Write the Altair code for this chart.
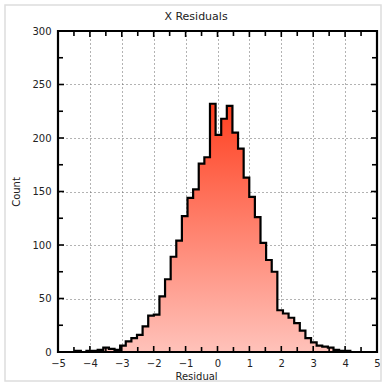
import altair as alt
import pandas as pd

# Histogram bins (uniform width)
bin_start = -4.46
bin_width = 0.176
counts = [1, 0, 1, 1, 2, 4, 3, 2, 6, 10,
          13, 16, 24, 34, 35, 52, 68, 89, 104, 127,
          144, 152, 176, 182, 232, 203, 218, 230, 205, 190,
          163, 145, 126, 102, 86, 75, 39, 36, 32, 27,
          20, 13, 9, 6, 5, 4, 2, 1, 1, 0]

x_major = [-5, -4, -3, -2, -1, 0, 1, 2, 3, 4, 5]
x_minor = [-4.5, -3.5, -2.5, -1.5, -0.5, 0.5, 1.5, 2.5, 3.5, 4.5]
y_major = [0, 50, 100, 150, 200, 250, 300]
y_minor = [25, 75, 125, 175, 225, 275]
title_text = "X Residuals"

W, H = 319, 321

edges = [bin_start + bin_width * k for k in range(len(counts) + 1)]
rows = [{"x": edges[0], "count": 0}]
for k, c in enumerate(counts):
    rows.append({"x": edges[k] + 1e-6, "count": c})
rows.append({"x": edges[-1], "count": 0})
hist = pd.DataFrame(rows)

xscale = alt.Scale(domain=[-5, 5], nice=False, zero=False)
yscale = alt.Scale(domain=[0, 300], nice=False)

xaxis = alt.Axis(values=x_major, format="d", title="Residual", grid=True,
                 gridDash=[1, 3], gridColor="#666", gridWidth=1,
                 labelOverlap=False, labelFlush=False, titleX=138,
                 ticks=False, domain=False, labelPadding=6, titlePadding=3)
yaxis = alt.Axis(values=y_major, title="Count", grid=True,
                 gridDash=[1, 3], gridColor="#666", gridWidth=1,
                 labelOverlap=False, labelFlush=False,
                 ticks=False, domain=False, labelPadding=7, titlePadding=10)

gradient = alt.Gradient(
    gradient="linear", x1=0, y1=0, x2=0, y2=1,
    stops=[alt.GradientStop(offset=0, color="#ff4020"),
           alt.GradientStop(offset=1, color="#ffc2ba")])

area = alt.Chart(hist).mark_area(interpolate="step-after", color=gradient,
                                 opacity=1).encode(
    x=alt.X("x:Q", scale=xscale, axis=xaxis),
    y=alt.Y("count:Q", scale=yscale, axis=yaxis),
)
line = alt.Chart(hist).mark_line(interpolate="step-after", color="black",
                                 strokeWidth=2.2).encode(
    x=alt.X("x:Q", scale=xscale, axis=xaxis),
    y=alt.Y("count:Q", scale=yscale, axis=yaxis))

def xticks(vals, length):
    d = pd.DataFrame({"v": vals})
    b = alt.Chart(d).mark_rule(color="black", strokeWidth=1.6).encode(
        x=alt.X("v:Q", scale=xscale, axis=xaxis), y=alt.value(H), y2=alt.value(H - length))
    t = alt.Chart(d).mark_rule(color="black", strokeWidth=1.6).encode(
        x=alt.X("v:Q", scale=xscale, axis=xaxis), y=alt.value(0), y2=alt.value(length))
    return [b, t]

def yticks(vals, length):
    d = pd.DataFrame({"v": vals})
    l = alt.Chart(d).mark_rule(color="black", strokeWidth=1.6).encode(
        y=alt.Y("v:Q", scale=yscale, axis=yaxis), x=alt.value(0), x2=alt.value(length))
    r = alt.Chart(d).mark_rule(color="black", strokeWidth=1.6).encode(
        y=alt.Y("v:Q", scale=yscale, axis=yaxis), x=alt.value(W), x2=alt.value(W - length))
    return [l, r]

one = pd.DataFrame({"t": [title_text]})
frame = alt.Chart(one).mark_rect(
    fill=None, stroke="black", strokeWidth=2.2).encode(
    x=alt.value(0), x2=alt.value(W), y=alt.value(0), y2=alt.value(H))
panel = alt.Chart(one).mark_rect(
    fill=None, stroke="#dddddd", strokeWidth=1.5, clip=False).encode(
    x=alt.value(-53), x2=alt.value(W + 4), y=alt.value(-26), y2=alt.value(H + 29))
title = alt.Chart(one).mark_text(
    font="DejaVu Sans", fontSize=11, color="#222", baseline="middle",
    align="center").encode(text="t:N", x=alt.value(138), y=alt.value(-14))

layers = [panel, area, line] + xticks(x_major, 6) + xticks(x_minor, 5) \
    + yticks(y_major, 6) + yticks(y_minor, 5) + [frame, title]

chart = alt.layer(*layers).properties(
    width=W, height=H,
    background="white",
    autosize=alt.AutoSizeParams(type="none"),
    padding={"left": 58, "top": 31, "right": 8, "bottom": 33},
).configure_view(stroke=None).configure_axis(
    labelFont="DejaVu Sans", titleFont="DejaVu Sans", labelFontSize=10,
    titleFontSize=10, titleFontWeight="normal", labelColor="#222",
    titleColor="#222",
)

chart.save("out.html", embed_options={"renderer": "svg", "actions": False})
